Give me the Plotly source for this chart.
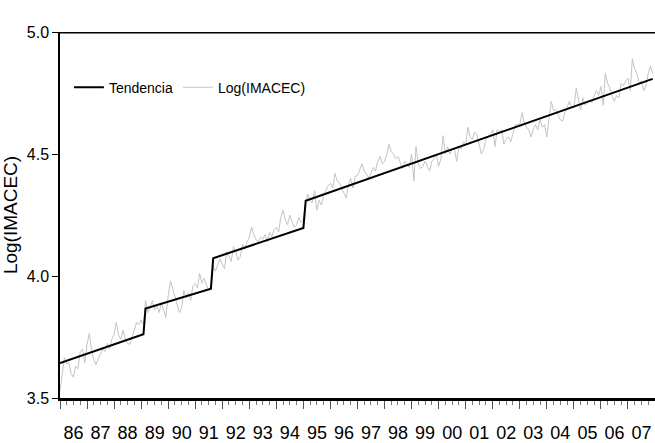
import plotly.graph_objects as go
import pandas as pd

# Monthly dates Jan 1986 - Dec 2007
dates = pd.date_range("1986-01-01", "2007-12-01", freq="MS")

# Log(IMACEC) monthly values, one row per year (Jan..Dec)
log_imacec = [
    3.53, 3.60, 3.665, 3.64, 3.645, 3.60, 3.585, 3.63, 3.62, 3.69, 3.70, 3.645,   # 1986
    3.72, 3.765, 3.70, 3.66, 3.636, 3.66, 3.68, 3.70, 3.69, 3.724, 3.70, 3.74,   # 1987
    3.76, 3.81, 3.76, 3.74, 3.778, 3.74, 3.724, 3.72, 3.75, 3.78, 3.81, 3.80,    # 1988
    3.82, 3.80, 3.90, 3.85, 3.87, 3.90, 3.86, 3.88, 3.85, 3.89, 3.86, 3.83,      # 1989
    3.92, 3.98, 3.95, 3.915, 3.88, 3.85, 3.87, 3.94, 3.91, 3.93, 3.90, 3.96,     # 1990
    3.97, 3.95, 4.01, 3.97, 3.99, 3.96, 3.94, 3.96, 4.04, 4.02, 4.05, 4.07,      # 1991
    4.05, 4.03, 4.10, 4.08, 4.06, 4.12, 4.10, 4.065, 4.08, 4.13, 4.11, 4.14,     # 1992
    4.16, 4.20, 4.17, 4.15, 4.14, 4.16, 4.15, 4.17, 4.14, 4.18, 4.16, 4.19,      # 1993
    4.20, 4.18, 4.24, 4.27, 4.23, 4.21, 4.25, 4.22, 4.20, 4.21, 4.24, 4.22,      # 1994
    4.23, 4.30, 4.335, 4.31, 4.30, 4.35, 4.27, 4.31, 4.29, 4.33, 4.35, 4.37,     # 1995
    4.38, 4.36, 4.42, 4.39, 4.38, 4.36, 4.34, 4.32, 4.375, 4.40, 4.36, 4.41,     # 1996
    4.41, 4.44, 4.46, 4.43, 4.42, 4.40, 4.42, 4.445, 4.43, 4.47, 4.49, 4.46,     # 1997
    4.47, 4.50, 4.54, 4.51, 4.50, 4.48, 4.49, 4.46, 4.44, 4.47, 4.46, 4.445,     # 1998
    4.50, 4.39, 4.53, 4.46, 4.44, 4.45, 4.47, 4.45, 4.43, 4.47, 4.48, 4.50,      # 1999
    4.45, 4.48, 4.575, 4.50, 4.53, 4.50, 4.52, 4.52, 4.47, 4.53, 4.52, 4.55,     # 2000
    4.54, 4.61, 4.57, 4.56, 4.59, 4.58, 4.54, 4.50, 4.52, 4.56, 4.57, 4.58,      # 2001
    4.60, 4.53, 4.60, 4.59, 4.60, 4.54, 4.56, 4.57, 4.55, 4.58, 4.62, 4.62,      # 2002
    4.62, 4.67, 4.63, 4.61, 4.60, 4.57, 4.60, 4.62, 4.60, 4.64, 4.61, 4.62,      # 2003
    4.57, 4.65, 4.716, 4.68, 4.68, 4.66, 4.64, 4.635, 4.67, 4.69, 4.716, 4.69,   # 2004
    4.69, 4.77, 4.72, 4.68, 4.73, 4.70, 4.71, 4.72, 4.71, 4.74, 4.76, 4.74,      # 2005
    4.777, 4.70, 4.83, 4.79, 4.77, 4.736, 4.716, 4.74, 4.73, 4.79, 4.78, 4.80,   # 2006
    4.81, 4.76, 4.89, 4.85, 4.83, 4.79, 4.80, 4.76, 4.78, 4.83, 4.86, 4.83,      # 2007
]

# Trend (piecewise linear with level shifts): segment end points
trend_dates = ["1986-01-01", "1989-02-01", "1989-03-01", "1991-08-01",
               "1991-09-01", "1995-01-01", "1995-02-01", "2007-12-01"]
trend_values = [3.643, 3.761, 3.867, 3.948, 4.073, 4.197, 4.308, 4.808]

y_ticks = [3.5, 4.0, 4.5, 5.0]
y_ticktext = ["3.5", "4.0", "4.5", "5.0"]
y_top = 5.0

narrow = "Liberation Sans Narrow, Arial Narrow, Liberation Sans, Arial, sans-serif"

fig = go.Figure()
fig.add_trace(go.Scatter(
    x=dates, y=log_imacec, mode="lines", name="Log(IMACEC)",
    line=dict(color="#c4c4c4", width=1), legendrank=2,
))
fig.add_trace(go.Scatter(
    x=trend_dates, y=trend_values, mode="lines", name="Tendencia",
    line=dict(color="black", width=2), legendrank=1,
))

# thick top frame line at 5.0
fig.add_shape(type="line", xref="paper", x0=0, x1=1, yref="y", y0=y_top, y1=y_top,
              line=dict(color="black", width=3), layer="above")

fig.update_layout(
    width=655, height=443,
    margin=dict(l=60, r=0, t=32, b=43),
    paper_bgcolor="white", plot_bgcolor="white",
    font=dict(family=narrow, color="black", size=16),
    showlegend=True,
    legend=dict(orientation="h", x=0.015, y=0.848, xanchor="left", yanchor="middle",
                bgcolor="rgba(0,0,0,0)", font=dict(family=narrow, size=14),
                itemwidth=30, tracegroupgap=0),
    xaxis=dict(
        type="date", range=["1986-01-01", "2008-01-01"],
        tick0="1986-01-01", dtick="M12", tickformat="%y", ticklabelmode="period",
        ticks="outside", ticklen=8, tickwidth=1, tickcolor="#555",
        minor=dict(dtick="M3", ticks="outside", ticklen=4, tickwidth=1, tickcolor="#777", showgrid=False),
        showline=True, linecolor="black", linewidth=3,
        showgrid=False, zeroline=False,
        tickfont=dict(family=narrow, size=18),
        ticklabelstandoff=8,
    ),
    yaxis=dict(
        range=[3.5, 5.0], tickvals=y_ticks, ticktext=y_ticktext,
        ticks="outside", ticklen=6, tickwidth=1, tickcolor="black",
        showline=True, linecolor="black", linewidth=1.5,
        showgrid=False, zeroline=False,
        tickfont=dict(family=narrow, size=16),
        title=dict(text="Log(IMACEC)", font=dict(family="Liberation Sans, Arial, sans-serif", size=19), standoff=4),
    ),
)

fig.write_html("out.html")
